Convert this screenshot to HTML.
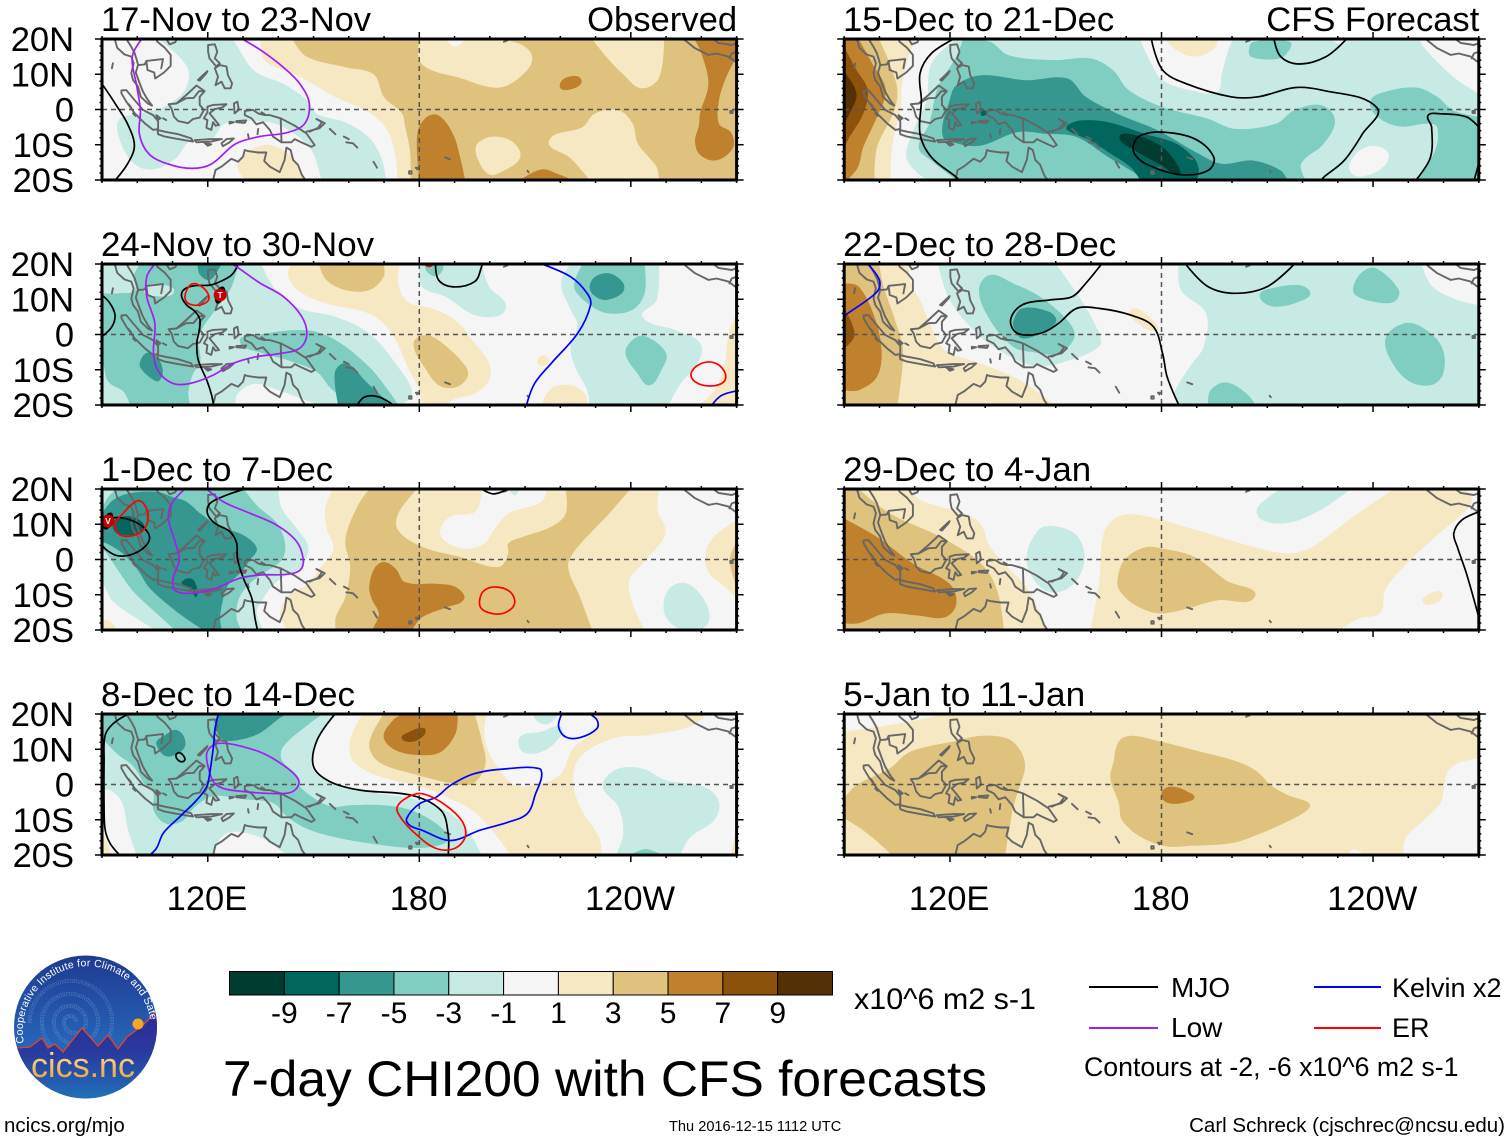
<!DOCTYPE html>
<html>
<head>
<meta charset="utf-8">
<title>7-day CHI200 with CFS forecasts</title>
<style>
html,body{margin:0;padding:0;background:#fff;}
svg{display:block;}
text{font-family:"Liberation Sans",sans-serif;fill:#000;}
</style>
</head>
<body>
<svg id="chart" xmlns="http://www.w3.org/2000/svg" width="1510" height="1142" viewBox="0 0 1510 1142">
<defs id="defs">
<linearGradient id="logoSky" x1="0" y1="0" x2="0" y2="1"><stop offset="0" stop-color="#1f3a92"/><stop offset="0.6" stop-color="#2663b6"/><stop offset="1" stop-color="#2a6cc0"/></linearGradient>
<linearGradient id="logoLand" x1="0" y1="0" x2="0" y2="1"><stop offset="0" stop-color="#2b2a96"/><stop offset="0.45" stop-color="#2a3a9e"/><stop offset="1" stop-color="#1f78bd"/></linearGradient>
<linearGradient id="logoGold" x1="0" y1="0" x2="0" y2="1"><stop offset="0" stop-color="#ffe9a8"/><stop offset="1" stop-color="#e8962c"/></linearGradient>
<clipPath id="logoClip"><circle cx="85.5" cy="1027" r="71.5"/></clipPath>
<path id="logoArc" d="M 24 1043 A 64 64 0 1 1 150 1018"/>
<path id="logoSpiral" d="M 78 1022 A 8 8 0 0 0 62 1022 A 13 13 0 0 0 88 1022 A 18 18 0 0 0 52 1022 A 24 24 0 0 0 100 1022 A 30 30 0 0 0 40 1022 A 37 37 0 0 0 114 1022 A 43 43 0 0 0 28 1022"/>
</defs>
<rect x="0" y="0" width="1510" height="1142" fill="#fff"/>
<g id="panels"></g>
<g id="colorbar"></g>
<text x="854" y="1009" font-size="30" textLength="182" lengthAdjust="spacingAndGlyphs">x10^6 m2 s-1</text>
<text x="223" y="1096" font-size="50" textLength="764" lengthAdjust="spacingAndGlyphs">7-day CHI200 with CFS forecasts</text>
<g>
<line x1="1089" y1="987" x2="1158" y2="987" stroke="#000" stroke-width="2"/>
<text x="1171" y="997" font-size="28">MJO</text>
<line x1="1314" y1="987" x2="1381" y2="987" stroke="#0000ff" stroke-width="2"/>
<text x="1392" y="997" font-size="27">Kelvin x2</text>
<line x1="1089" y1="1028" x2="1158" y2="1028" stroke="#a020f0" stroke-width="2"/>
<text x="1171" y="1037" font-size="28">Low</text>
<line x1="1314" y1="1028" x2="1381" y2="1028" stroke="#ff0000" stroke-width="2"/>
<text x="1392" y="1037" font-size="27">ER</text>
<text x="1084" y="1076" font-size="26.7">Contours at -2, -6 x10^6 m2 s-1</text>
</g>
<text x="4" y="1132" font-size="20.5">ncics.org/mjo</text>
<text x="669" y="1131" font-size="14.6">Thu 2016-12-15 1112 UTC</text>
<text x="1505" y="1132" font-size="20.5" text-anchor="end">Carl Schreck (cjschrec@ncsu.edu)</text>
<g>
<circle cx="85.5" cy="1027" r="71.5" fill="url(#logoSky)"/>
<g clip-path="url(#logoClip)">
<text font-size="5.5" style="fill:#9fc2ee" opacity="0.4"><textPath href="#logoSpiral">101010100010110101001010010110100101010110100010101101010101000101101010010100101101001010101101000101011010101010001011010100101001011010010101011010001010110101010100010110101001010010110100101010110100010101101010101000101101010010100101101001010101101000101011010101010001011010100101001011010010101011010001010110101</textPath></text>
<path d="M 10 1048 L 17 1048 L 30 1047 L 42 1038 L 48 1048 L 55 1044 L 63 1052 L 82 1028 L 98 1046 L 108 1035 L 118 1049 L 127 1037 L 143 1025 L 160 1010 L 160 1105 L 10 1105 Z" fill="url(#logoLand)"/>
<path d="M 17 1048 L 30 1047 L 42 1038 L 48 1048 L 55 1044 L 63 1052 L 82 1028 L 98 1046 L 108 1035 L 118 1049 L 127 1037 L 143 1025 L 156 1012" fill="none" stroke="#e0452a" stroke-width="1.3"/>
</g>
<circle cx="138" cy="1024" r="5.5" fill="#f5a623"/>
<text font-size="10.5" style="fill:#fff"><textPath href="#logoArc" textLength="226" lengthAdjust="spacing">Cooperative Institute for Climate and Satellites</textPath></text>
<text x="83" y="1077" font-size="34" text-anchor="middle" style="fill:url(#logoGold)">cics.nc</text>
</g>
</svg>
<script>
// ---------- Colour scale ----------
const colorBreaks = [-9, -7, -5, -3, -1, 1, 3, 5, 7, 9];
const colorRamp = ['#003c30', '#01665e', '#35978f', '#80cdc1', '#c7eae5', '#f5f5f5', '#f6e8c3', '#dfc27d', '#bf812d', '#8c510a', '#543005'];
const latTickValues = [20, 10, 0, -10, -20];
const latTickLabels = ['20N', '10N', '0', '10S', '20S'];
const lonTickValues = [120, 180, 240];
const lonTickLabels = ['120E', '180', '120W'];

// ---------- Coastlines (lon, lat pairs) ----------
const coastOpen = [
 [93.6,20, 94.3,17.5, 96.4,15.6, 98.3,15, 99,13.1, 98.3,10.3, 98.8,8.4, 100.2,6.5, 101,3.6, 103,1.7, 104.2,1.1, 103,2.7, 101.6,5.1, 100.7,7.4, 99.6,10.5, 100.2,12.6, 102.1,12.8, 102.6,13.8, 102.9,11.2, 104.8,10.5, 105.1,8.8, 107.6,10.5, 109.5,12.4, 109.5,15.5, 107.8,17.5, 105.7,19.2, 105.4,20],
 [102.6,13.8, 107.3,14.3, 106.8,11.7],
 [96.9,20, 98.3,17.8, 99.3,15.9, 100.2,12.8],
 [108.2,20, 109.2,18.5, 110.8,19.1, 111.2,20],
 [111.1,1.7, 113.9,3.2, 116,3.3, 117.5,5.2, 119.1,5.2],
 [140.7,-2.5, 140.9,-9.3],
 [148,-6.3, 151.7,-5.3, 153.2,-3.9, 150.8,-2.7, 152.4,-3.6, 151.3,-5.2, 148.9,-6.3],
 [154.6,-5.5, 156.2,-7],
 [158.6,-7.7, 160,-8.4],
 [159.3,-9.3, 161.2,-9.6, 162.4,-10.8],
 [131.4,-7, 131.6,-8],
 [134.3,-5.5, 134.1,-7],
 [97.6,1.5, 98.3,0.5],
 [98.8,-1.1, 99.5,-1.8],
 [93.1,13.1, 92.8,11.7],
 [107.3,-2.5, 108.2,-3],
 [135.2,-0.8, 136.1,-1.3],
 [121.5,-20, 122.2,-17.2, 123.9,-16.2, 126.7,-14, 128.6,-14.8, 130,-13.4, 130.5,-11.5, 131.4,-11.8, 134.3,-12.2, 136.6,-12.2, 136,-14.6, 137.6,-16.2, 140.4,-17.8, 141.8,-14.3, 142.3,-10.8, 143.5,-11.5, 144.2,-14.3, 145.6,-15.7, 146.7,-18.6, 147.7,-20],
 [167,-14.8, 168,-16.5],
 [187.3,-13.6, 188.7,-14.1],
 [210.7,-17.4, 211,-17.8],
 [204,19.2, 205,19.6],
 [254.9,20, 258.2,17.4, 262,15.5, 264.3,15.9, 267.7,15, 269.6,13.6],
 [263.4,20, 264.8,18.9, 268.6,18.3, 270,18.8],
 [268,14.5, 268.6,15.9, 270,16.4],
 [268.4,-0.4, 268.8,-1]
];
const coastClosed = [
 [95.5,5.4, 96.9,5.5, 98.8,3.2, 101.6,-0.1, 104.5,-1.6, 105.9,-3.3, 105.9,-5.5, 104.5,-5.8, 102.1,-3.9, 99.3,-1.1, 96.9,2.2, 95.5,4.6],
 [105.7,-5.8, 107.8,-6.3, 111.6,-7, 115.3,-8.2, 115.8,-9.1, 111.6,-8.4, 107.8,-7.7, 105.9,-7],
 [116.3,-8.7, 121,-8.4, 124,-8.4, 121,-9.1, 116.8,-9.3],
 [123.9,-9.6, 125.3,-8.4, 127.4,-8.2, 126.2,-9.3, 124.3,-10.4],
 [118.9,-9.3, 121,-9.9, 120,-10.3],
 [108.9,1.5, 111.1,1.7, 113.9,4.1, 116.8,6.8, 119.1,5.2, 117.7,3.6, 117.7,1.3, 118.9,-0.1, 117.7,-2.3, 115.8,-2.7, 114.4,-3.9, 111.6,-3.3, 110.4,-2, 109.7,0.3],
 [119.9,0.8, 121.5,1.3, 125.3,1.5, 124,0.5, 122,0.1, 120.5,-1.1, 121.5,-2.3, 123.2,-4.4, 122.2,-4.6, 121.5,-3.6, 121,-5.8, 119.6,-5.2, 119.9,-3, 118.9,-2.5, 119.9,-0.8],
 [120.1,18.3, 122,18.5, 122.7,16.4, 122,14.5, 123.4,13.1, 122.4,12.2, 120.5,14.5, 120.1,16.4],
 [122,11.7, 123.4,12.6, 125.3,12.2, 125.7,9.8, 126.9,7.4, 126.5,6, 124.8,6, 123.9,7.9, 122.2,6.9, 122.9,9.3],
 [117.2,8.4, 119.9,10.9, 119.6,10.3, 117.7,8.2],
 [127.4,1.7, 128.4,2.2, 128.8,-0.1, 127.6,-1.1],
 [128.1,-3.3, 130.9,-3.1, 130.5,-3.8, 128.1,-3.6],
 [126.2,-3.5, 127.4,-3.6, 126.2,-4],
 [130.5,-0.4, 132.8,-0.1, 134.3,-1.1, 136.1,-1.6, 137.6,-1.6, 140.7,-2.5, 144.7,-4.6, 146.5,-5.8, 148,-6.8, 150.3,-10.1, 149.4,-10.6, 146.5,-9.3, 144.7,-8.4, 143.7,-9.3, 140.9,-9.3, 138.5,-7.7, 137.6,-5.8, 135.7,-3.6, 133.8,-4.2, 132.4,-2.5, 130.5,-1.6],
 [105.4,-1.6, 106.6,-2.5, 105.9,-2.9],
 [177.1,-17.5, 177.8,-17.5, 177.8,-18.2, 177.1,-18.2],
 [179,-16.5, 179.6,-16.5, 179.4,-17],
 [268.2,-0.4, 268.9,-0.4, 268.9,-1, 268.2,-1]
];

// ---------- Panel 1: 17-Nov to 23-Nov (level, then lon,lat pairs) ----------
const p1Fills = [
 [2, 90,20, 144,20, 148,15, 159,12, 167,10, 170,3.5, 175,-1, 176,-5, 177.4,-12, 177.5,-20, 90,-20],
 [0, 90,20, 135.2,20, 136,14, 145.4,9.7, 156.3,3.5, 165.8,-0.8, 171,-6, 173.3,-13.6, 173.7,-20, 90,-20],
 [2, 130.5,-20, 128.5,-15.5, 133.3,-10.8, 138.6,-10.3, 144,-13.6, 148,-20],
 [-2, 106,20, 114.2,12, 113.5,5.5, 107.4,0.7, 100.6,-1.2, 94.8,-3, 95.2,-9, 99.2,-15.5, 104.7,-17, 110.8,-14, 114.9,-9, 121,-8.4, 125,-4, 137.3,-3.6, 144,-6.5, 149.5,-11.7, 152.2,-20, 170.6,-20, 169.2,-13.6, 165.8,-8, 159,-3.6, 150.9,-1.2, 148.2,2.6, 141.4,7.3, 133.2,11, 127.8,18.8, 127,20],
 [2, 180,20, 180.6,13, 191.4,9, 202.7,6.2, 210,10.5, 212,15, 208.8,18.5, 202,20],
 [0, 187.5,20, 190.3,17.8, 193,20],
 [2, 229,20, 233,15, 237.8,10, 243,6, 248,9, 249.4,20],
 [2, 216.8,-8.9, 226.3,-5, 229.7,-1.2, 236.5,-0.2, 240.5,-4, 242,-9.7, 247.3,-16.3, 248,-20, 228.3,-20, 222.9,-13.8],
 [2, 196.4,-9.8, 201,-7.7, 206.6,-9.3, 208.6,-13.6, 203.9,-17.4, 199.8,-18.4, 196.4,-13.6],
 [6, 179.4,-7, 182,-2.2, 185.5,-1.7, 189.6,-7, 191.6,-13.6, 193,-20, 180,-20],
 [6, 208.6,-20, 214.7,-17, 219.5,-18.4, 223.6,-20],
 [6, 219.9,7.3, 221.5,9, 225,9.4, 226,7.6, 223.6,5.9, 220.4,5.7],
 [6, 258,20, 260,16, 262,7.3, 259.6,-1.2, 259.3,-4.5, 258.2,-9, 259.6,-12.8, 264.3,-14.4, 269,-10.8, 268.4,-6.5, 265,-4, 265,2.6, 267,9, 270,15, 270,20]
];
const p1Mjo = [[90,7.3, 93.8,1.6, 97.2,-4, 99.2,-10.3, 97.2,-15.5, 93.8,-20]];
const p1Low = [[101.3,20, 98.6,15, 99.9,6.4, 100.9,-0.3, 100.6,-7, 103.3,-12.6, 108.8,-15.5, 115.5,-16.7, 121,-15.5, 127.8,-9.8, 134.6,-7.7, 142.7,-6.5, 147.5,-4, 148.8,1.7, 146.1,7.3, 141.4,12, 135.2,16.7, 129.8,20]];
const p1Kelvin = [];
const p1Er = [];
const p1Storms = [];

// ---------- Panel 2: 24-Nov to 30-Nov ----------
const p2Fills = [
 [2, 144,20, 174.6,20, 174,14.5, 176.7,9.3, 183.5,7.4, 190.3,4, 195,-1.6, 199.8,-8.2, 199.8,-13, 195.7,-16.8, 190.3,-18.2, 187.5,-20, 180.8,-20, 180,-15.8, 176.7,-9.2, 173.3,-1.6, 170,3.1, 164.5,6.4, 153.6,8.8, 145.4,12.6, 142.7,17.3],
 [4, 151.5,20, 153.6,15.5, 159,12.6, 165.8,12.6, 169.9,16.4, 169.9,20],
 [4, 178.7,-1.6, 182.1,-0.2, 186.2,-2.2, 193,-8.8, 193.7,-12, 190.3,-15, 185.5,-14.4, 181.4,-9.2, 178.7,-4.5],
 [-2, 90,20, 135.2,20, 139.3,12.6, 146.1,7.4, 156.3,5, 165.8,0.3, 174,-9.2, 178,-16.8, 174.6,-20, 151.5,-20, 148,-18.7, 140,-15.8, 133.2,-14, 128.5,-16.8, 127.8,-20, 90,-20],
 [-4, 90,11.7, 95.1,11.7, 99.4,12.6, 98.9,16.4, 100.8,20, 128.7,20, 126.8,13.6, 123.5,8.8, 121.1,5.5, 118.7,2.2, 117.3,-1.6, 117.8,-5.3, 117.8,-8.2, 115.9,-11, 114.5,-16.2, 115,-20, 97.9,-20, 96.1,-16.2, 91.8,-13.4, 90.4,-8.7, 90,-8.7],
 [-2, 102.2,13.6, 105.5,14.3, 110.2,13.1, 109.8,11.2, 104.6,10.9, 102.2,11.7],
 [-6, 117.1,20, 117.8,16.9, 120.6,15.5, 123.5,19.2, 124,20],
 [-6, 100.8,-7.7, 102.5,-5.3, 104.9,-5.8, 107.2,-9.6, 106.2,-13.1, 103.9,-12.4, 101,-9.6],
 [-4, 129.1,-2, 134.6,0, 148.2,1.2, 156.3,-1.6, 165.8,-9.2, 171.9,-16.8, 174,-20, 161,-20, 155,-15.4, 150.9,-10.6, 142.7,-7.3, 135.9,-5.4],
 [-6, 156,-11, 158.3,-8.2, 161.1,-9.2, 164.5,-13, 170,-18.2, 171.3,-20, 157,-20],
 [-2, 180,20, 180.8,13.6, 187.5,10.7, 195.7,5.5, 203,5.5, 204.5,8.8, 199.8,13.6, 197.7,20],
 [-4, 181.5,20, 182,18, 184.5,16.5, 186.5,18, 186.8,20],
 [-2, 222.9,20, 220.2,14.5, 222.9,7, 224.9,2.7, 222.9,-3.5, 224.2,-9.2, 227.6,-15.8, 228.3,-20, 250.7,-20, 254.1,-14, 258.9,-8.2, 259.8,-2.6, 252.8,1.2, 243.3,5, 247.3,9.8, 248,20],
 [-4, 224.2,15.5, 226.3,20, 243.9,20, 243.9,11.7, 240.5,7, 233.6,6, 228.3,8.4, 224.2,12.6],
 [-6, 228.3,13.6, 229.9,16.4, 234,17.3, 237.9,14.5, 237.5,11.7, 232.8,9.8, 229.4,11.2],
 [-4, 238.5,-5.3, 240.5,-1.5, 243.9,-0.4, 250,-5.3, 248.7,-10, 245.3,-14.4, 241.9,-11.1],
 [2, 213.4,-7.3, 215.4,-5.9, 216.8,-7.8, 214.5,-8.9],
 [2, 214.7,-20, 217.4,-15.3, 222.9,-14.4, 227,-16.8, 227.6,-20],
 [2, 259.6,-20, 263.7,-15.8, 266.4,-9.2, 267.8,0.3, 270,6, 270,-20]
];
const p2Mjo = [
 [128.7,20, 126.8,16.9, 123.5,15, 120.6,14, 115.9,13.8, 113.1,12.6, 112.6,10.7, 114,8.4, 116.4,6.5, 117.8,4.1, 117.5,0.8, 116.9,-2.5, 117.3,-7.2, 119.7,-12.9, 121.1,-17.2, 121.6,-20],
 [90,11.2, 92.3,8.8, 93.7,5.5, 92.8,2.2, 90,-0.6],
 [184.6,20, 185.5,15.4, 189.6,13.5, 195.7,15, 197.7,19.3, 197.7,20],
 [162.4,-20, 164.5,-17.7, 168.5,-17.7, 172.6,-20]
];
const p2Low = [[105,20, 102.7,16.4, 102.7,10.7, 105,3.1, 104.6,-5.3, 106,-10.5, 110.2,-13.9, 114.9,-13.9, 121.6,-11.5, 127.2,-8.2, 133.8,-6.3, 140.5,-5.4, 146.1,-3.9, 148.1,0, 146.6,5.2, 141.4,10.8, 134.8,14.6, 128.2,19.2, 126.8,20]];
const p2Kelvin = [
 [214.7,20, 222.9,16.4, 227.6,11.7, 228.6,8.4, 224.9,0.3, 217.4,-8.2, 212.7,-13.9, 210.4,-20],
 [263,-20, 265.7,-17.3, 270,-16]
];
const p2Er = [
 [113.5,10.7, 115,14, 116.9,14.3, 119.7,12.2, 120.2,9.8, 117.8,8.4, 114.5,8.8],
 [181.4,20, 182.8,19.3, 184.1,20],
 [257.1,-11, 259.6,-8.4, 263.6,-8, 266.6,-10.6, 266.4,-13.4, 262.3,-14.6, 258.2,-13.4]
];
const p2Storms = [['T', 123.5, 11.2]];

// ---------- Panel 3: 1-Dec to 7-Dec ----------
const p3Fills = [
 [4, 165.8,20, 179.4,20, 174,13, 174,8.3, 180.8,3.6, 191.6,0.7, 202.5,-2.1, 205.2,1.7, 205.2,4.5, 209.3,6.4, 217.4,9.3, 221.5,13, 221.5,20, 239.9,20, 233.8,13, 224.2,2.6, 222.2,-2.1, 225.6,-10.7, 229,-20, 156.3,-20, 156.3,-16.4, 159,-10.7, 160.4,-2.1, 159,5.5, 162.4,15],
 [0, 185.9,8.3, 188.8,12.1, 195.7,13.5, 197.7,18.8, 197.1,20, 216.1,20, 214.7,16.4, 205.2,13, 201.1,8.3, 198.4,4.5, 193,3.1, 187.5,5],
 [-2, 205.2,20, 207,18.3, 208.6,20],
 [6, 165.8,-7.8, 167.2,-2.6, 169.9,-0.7, 173.3,-2.6, 176,-6.4, 184.8,-6.9, 190.3,-7.8, 192.7,-11.2, 187.6,-13.6, 180.8,-16.4, 178,-20, 166.5,-20, 168.5,-15.5, 166.5,-11.2],
 [0, 248,20, 247.6,14, 249.8,7.4, 243.3,-1.2, 239.5,-5.9, 240.5,-12.6, 243.9,-20, 270,-20, 270,20],
 [2, 261.2,1.7, 263.6,6.4, 270,11.2, 270,-10.7, 265.7,-6.9, 262,-3.6],
 [4, 270,5, 268,-0.2, 270,-7.8],
 [-2, 249.4,-11.6, 251.4,-7.8, 255.5,-6.7, 259.6,-9.7, 262.3,-15.4, 260.9,-19.2, 254.1,-19.7, 250,-16.4],
 [0, 90,20, 155.5,20, 153.3,14.5, 153.7,8.8, 155.6,3.2, 151.8,-2.5, 148,-7.2, 143.3,-10, 140.5,-15.3, 142.4,-20, 90,-20],
 [-2, 90,20, 140,20, 141,14.5, 145.2,8.8, 148.5,3.6, 146.6,-2, 142.4,-4.4, 138.6,-7.2, 135.8,-11, 133.9,-14.8, 135.8,-20, 105,-20, 99.8,-16.7, 93.2,-12, 90.4,-7.2, 90,-7.2],
 [-4, 94.2,20, 130.1,20, 134.3,15, 139.6,10.3, 141.9,4.6, 141,-0.1, 135.8,-3.9, 131.5,-7.2, 128.7,-11.5, 128.2,-16.7, 129.6,-20, 110.7,-20, 105.5,-15.3, 98.9,-9.1, 95.1,-3.9, 91.3,1.7, 90,3.2, 90,14.5, 91.8,17.8],
 [-6, 90,13.1, 93.2,16.9, 97.9,18.8, 105.5,19.2, 109.8,17.8, 114,16.4, 117.8,13.1, 123.5,9.3, 129.9,7, 133.9,3.2, 132,-0.1, 129.1,-3.9, 125.8,-7.2, 124.4,-11, 123.5,-16.7, 124,-20, 118.7,-20, 111.2,-14.8, 103.6,-8.2, 99.8,-2.5, 95.9,1.7, 92.2,4.1, 90,5.1],
 [-8, 93.2,10.7, 96,12.2, 99.8,11.7, 102.1,9.3, 100.7,7.4, 96.9,6.9, 93.7,7.9],
 [-8, 112.6,-6.3, 114.5,-5.3, 116.3,-6.3, 116.9,-10.5, 115,-8.6, 112.6,-6.8],
 [2, 90,-17.2, 92.3,-17.6, 94.2,-20, 90,-20]
];
const p3Mjo = [
 [90,11.2, 92.3,11.7, 95.1,11.9, 98.9,10.9, 102.1,8.8, 103.5,6, 101.7,3.2, 98,1.3, 94.2,1.1, 91.3,2.7, 90,4.1],
 [130.5,20, 125.4,18.3, 120.6,15.9, 119.9,13.1, 122,10.3, 126.3,7.9, 128.2,4.6, 128.4,0.3, 130.1,-5.3, 132.5,-11, 133.4,-16.7, 134.1,-20],
 [197.7,20, 201.1,18.6, 205.2,20]
];
const p3Low = [[113.5,20, 109.8,15.9, 108.8,11.7, 110.7,5.1, 111.9,-0.1, 110.2,-5.3, 110.7,-8.7, 115,-9.6, 121.6,-8.4, 129.1,-5.3, 134.8,-4.4, 142.4,-4.2, 146.2,-3, 147.1,-0.1, 145.2,5.1, 139.5,9.8, 132,13.1, 124.4,16.4, 119.7,20]];
const p3Kelvin = [];
const p3Er = [
 [93.6,9.8, 96,13.1, 99.8,16.6, 101.7,16, 103.1,12.6, 102.1,8.8, 98.9,6.8, 95.1,7],
 [197.1,-11.6, 198.4,-8.8, 201.8,-7.8, 205.9,-9.3, 207,-12.6, 204.5,-15, 201.1,-15.4, 197.7,-14]
];
const p3Storms = [['V', 91.7, 10.9]];

// ---------- Panel 4: 8-Dec to 14-Dec ----------
const p4Fills = [
 [2, 163.8,20, 160.4,12.6, 161.1,6.9, 166.5,3.1, 172.6,1.2, 180.8,-0.7, 188.9,-4.1, 195.7,-7.8, 201.8,-14.5, 205.9,-20, 231.7,-20, 231,-15, 225.6,-6.4, 223.6,1.2, 225.6,7.8, 235.1,13.1, 244.6,14, 256.8,16.4, 261.6,20, 230.4,20, 229.7,15.4, 223.6,10.2, 220.2,3.1, 214.7,0.2, 207.3,-0.2, 202.5,4.5, 199.1,10.7, 198.4,15.4, 199.1,20],
 [4, 169.9,20, 195.7,20, 197.7,12.6, 198.7,5.5, 195,0.2, 188.9,0.4, 178,3.1, 168.5,6.4, 165.8,11.6],
 [6, 169.9,13.5, 172.6,18.3, 175.3,20, 190.9,20, 190.3,14.5, 186.2,9.3, 180.8,8.3, 173.3,9.7],
 [8, 175,13.1, 177.3,15, 181.4,16, 181.4,14, 178,12.1],
 [-2, 90,20, 156.6,20, 151.8,13.6, 149.9,7.9, 149.9,4.1, 155.6,0.3, 163.2,-1.7, 179.4,-4.3, 188.2,-7.8, 193.7,-13, 197.7,-20, 142.4,-20, 138.6,-17.2, 133.9,-14.6, 127.3,-13.4, 123.5,-15.3, 121.9,-20, 99.8,-20, 97.4,-12.9, 95.6,-4.9, 92.3,-1.6, 90,-1.6],
 [-4, 90,13.1, 94.2,8.8, 98.9,5.1, 102.2,-0.1, 104.6,-2.5, 104.6,-7.2, 107.9,-11, 112.6,-10.5, 116.4,-6.3, 121.6,-3.3, 130.1,-4.2, 138.6,-5.3, 142.7,-9.3, 148.2,-12.6, 156.3,-15, 167.2,-16.9, 178,-18, 185.5,-17.3, 188.2,-15.4, 185.5,-11.6, 178,-7.4, 169.9,-5.9, 160.4,-5.9, 155.6,-6.3, 151.8,-4.9, 146.2,-0.6, 145.2,2.7, 141,6.9, 141.4,10.7, 149,17.4, 152.8,20, 90,20],
 [-6, 122.7,20, 122.5,15.5, 124.4,12.7, 129.1,12.7, 134.8,14.6, 141,19.2, 143.3,20],
 [-6, 105.5,12.2, 107.9,14, 110.7,15.5, 113,14, 113.5,10.7, 110.7,8.4, 107.9,8.1, 106,10.1],
 [-2, 212,20, 214,17.5, 216.8,17.3, 219.5,20],
 [-2, 208.6,13.5, 209.3,9.3, 214.7,9.3, 219.5,13, 220.2,16.4, 214.7,15],
 [-2, 232.4,1.2, 236.5,4.5, 243.3,4.5, 250,1.2, 260.9,-0.7, 265,-5, 263.6,-10.2, 256.8,-15, 254.1,-20, 235.8,-20, 237.8,-14, 236.5,-6.4, 232.4,-1.7],
 [-4, 240.1,-20, 244.1,-18.3, 248.9,-20],
 [2, 270,-12, 268.4,-20, 270,-20],
 [2, 90.4,-13.9, 92.3,-19, 92.8,-20, 90,-20, 90,-13.9]
];
const p4Mjo = [
 [97.5,20, 93.2,17.3, 90.9,14, 90.6,6.9, 90.6,-7.2, 90.9,-12.9, 92.3,-16.7, 95,-20],
 [111,8.4, 112.1,9, 113.5,7.4, 113,6.5, 111.6,6.9],
 [156.1,20, 151,12.6, 150,5.1, 154.7,0.8, 163.2,-1.6, 178,-3.1, 186.2,-7.4, 188.2,-14, 188.2,-20]
];
const p4Low = [[124.9,11.7, 121.6,11.2, 119.7,8.8, 120.2,4.6, 121.6,0.8, 124.4,-1.1, 130.1,-2, 136.8,-2.5, 143.4,-2.3, 145.8,-0.1, 145.2,2.2, 141.4,5.5, 135.8,8.8, 130.1,10.7]];
const p4Kelvin = [
 [123,20, 122,15.5, 121.6,10.7, 120.4,2.2, 119.7,-0.6, 116.9,-4.4, 112.1,-9.1, 107.4,-13.8, 105.5,-18, 103.6,-20],
 [176.4,-9.7, 180,-5.5, 184.8,-3.6, 188.9,-0.2, 195.7,3.1, 205.2,4.5, 214,4.5, 214.7,2.2, 213,-2.6, 210.7,-8.2, 205.2,-10.7, 197.1,-13, 188.9,-15.9, 180.8,-13, 177.3,-11.6],
 [220.4,20, 219.5,16.4, 221.5,13.5, 225.6,13.3, 230.4,15.9, 230.4,18.3, 228.3,20]
];
const p4Er = [[173.7,-6.4, 176.7,-3.6, 180.8,-2.6, 187.5,-5.9, 192.3,-10.7, 193,-15, 189.6,-18.3, 184.2,-17.9, 178,-13.1, 174.7,-9.3]];
const p4Storms = [];

// ---------- Panel 5: 15-Dec to 21-Dec ----------
const p5Fills = [
 [0, 90,20, 121.8,20, 114.7,13, 113.4,2.6, 109.6,-6, 107.6,-13.5, 111.1,-18.3, 114,-20, 90,-20],
 [2, 90,20, 110.2,20, 108.3,15, 106.3,6.4, 106,-0.2, 103.8,-8.8, 103.1,-20, 90,-20],
 [4, 90,20, 99.9,20, 102.5,14, 105.1,5.5, 103.8,-1.2, 99.3,-10.7, 98.6,-20, 90,-20],
 [6, 90,20, 94.1,20, 98,13, 101.8,5.5, 99.3,-2.1, 95.4,-10.7, 93.9,-16.4, 90.9,-20, 90,-20],
 [8, 90,17.8, 93.5,11.2, 96.7,5.5, 95.4,-1.2, 91.5,-7.8, 90,-10.7],
 [10, 90,10.7, 93.5,4.5, 91.5,-1.2, 90,-4],
 [0, 173.9,20, 177.1,13, 180.3,8.3, 188.1,5.5, 195.8,5, 197.1,10.2, 199,16.9, 200.3,20],
 [2, 181,20, 184.2,16.9, 189.4,15, 194.5,16.9, 196.4,20],
 [0, 253,20, 255,16.9, 262.7,9.3, 270,4.5, 270,20],
 [0, 228,20, 231.2,18.3, 233,20],
 [0, 233.4,-15.4, 236.3,-11.6, 240.8,-10.4, 244.4,-12.6, 242.8,-16.4, 237,-19, 233.8,-18],
 [-4, 123.7,20, 131.4,19.2, 136.6,15.4, 149.5,14, 159.8,14.5, 166.2,11.2, 170.7,5.5, 180.3,0.7, 193.2,-2.6, 200.9,-5.5, 212.5,-4, 217.7,-0.2, 225.4,1.2, 229.2,-3.1, 226,-9.7, 219.6,-15.4, 220.9,-20, 121.8,-20, 114.7,-14.5, 111.1,-10.7, 114.1,-4, 116.6,6.4, 121.8,15],
 [-4, 204.8,16.9, 206.1,19.2, 216.4,19.2, 215.1,15.4, 211.2,14.2, 205.4,15],
 [-4, 239.3,2.6, 243.4,5, 252.4,6.2, 258.2,3.6, 262.7,-0.2, 270,-2.1, 270,-20, 252.4,-20, 257.6,-11.6, 258.2,-5, 255.6,-4, 247.3,-4.8, 240.8,-1.7],
 [-6, 119.9,2.6, 121.8,6.9, 128.9,9.7, 141.7,8.3, 153.3,8.8, 158.5,3.6, 167.5,-1.2, 179.1,-6, 190.6,-12.6, 197.1,-15.4, 206.1,-14.5, 213.8,-17.3, 215.7,-20, 175.2,-20, 171.3,-17.3, 164.9,-13.5, 155.9,-7.8, 146.9,-6.9, 139.2,-6.4, 128.9,-10.2, 122.4,-9.7, 117.9,-7.4],
 [-8, 153.3,-4.5, 157.2,-3.1, 164.9,-3.6, 175.2,-6.9, 184.2,-9.7, 189.4,-14, 190.6,-17.3, 190,-20, 173.9,-20, 171.3,-16.4, 164.9,-12.1, 159.8,-8.8, 153.3,-5.9],
 [-10, 168.1,-7.8, 172.6,-7.3, 180.3,-10.7, 184.9,-16.4, 184.9,-18.8, 180.3,-16, 172.6,-11.7],
 [-8, 128.9,-0.5, 130.2,-0.4, 130.2,-1.5, 128.9,-1.7]
];
const p5Base = -2;
const p5Mjo = [
 [121.1,20, 114.7,15.9, 111.5,10.2, 111.9,2.6, 111.5,-6.9, 114.7,-13.5, 121.8,-19.2, 122.5,-20],
 [177.1,20, 180.3,11.2, 186.8,7.4, 199.7,3.6, 207.4,3.6, 217.7,6.2, 225.4,5.5, 241.1,0.5, 237,-6.9, 231.8,-14.5, 226,-19.2, 225.5,-20],
 [211.9,20, 213.8,15, 219,12.9, 226.7,15, 232.5,20],
 [172,-10.2, 174,-7.4, 180.3,-6.4, 189.4,-8.3, 194.8,-13.5, 193.2,-17.3, 185.5,-18.5, 176.5,-15.9, 172.6,-13],
 [252.2,-20, 256.3,-13.5, 256.6,-5, 255.6,-1.7, 258.8,-1.2, 266.5,-2.1, 270,-5, 270,-15.3, 268.7,-20]
];
const p5Low = [];
const p5Kelvin = [];
const p5Er = [];
const p5Storms = [];

// ---------- Panel 6: 22-Dec to 28-Dec ----------
const p6Fills = [
 [2, 90,20, 108.3,20, 108.9,14.5, 111.5,9.8, 114.7,2.2, 118.6,-4.5, 127.6,-7.8, 137.9,-12, 144.3,-15.8, 149.5,-20, 90,-20],
 [4, 90,20, 99.9,20, 101.2,13.6, 104.4,4.1, 106.7,-4.5, 105.1,-20, 90,-20],
 [6, 90,14.5, 94.1,13.6, 98.6,5, 100.6,-4.5, 99.3,-12, 94.1,-15.8, 90,-15.8],
 [8, 90,7.4, 92.2,3.1, 92.8,-0.7, 90,-4],
 [-2, 116.6,20, 119.9,9.8, 127.6,0.3, 134,-4.5, 143,-8.7, 150.7,-8.3, 162.3,-3.5, 162.3,0.3, 157.2,9.8, 150.1,20],
 [-4, 128.2,12.6, 131.4,16.9, 137.9,14.5, 145.6,10.7, 153.3,4, 155.3,-0.7, 150.7,-5.4, 143,-4.9, 137.9,-3.5, 131.4,4],
 [-6, 137.9,3.6, 140.5,7.4, 148.2,6.4, 150.1,3.6, 145.6,0.3, 140.5,-1.1, 138.5,1.2],
 [-2, 184.9,20, 185.5,12.6, 192.6,6, 191.9,-3.5, 188,-9.2, 183.6,-16.8, 184.9,-20, 270,-20, 270,8.3, 264,9.8, 256.9,13.6, 253.7,20],
 [-4, 208,11.7, 211.2,13.1, 219,14, 222.2,11.7, 219,9.3, 212.5,7.9, 208.7,9.3],
 [-4, 234.4,13.6, 237,17.8, 240.8,18.8, 247.3,12.6, 246,9.3, 240.2,9.3, 235,11.2],
 [-4, 243.7,-0.7, 248.6,3.1, 253.7,2.2, 259.5,-3.5, 259.9,-11.1, 256.3,-14.4, 249.8,-13, 244.6,-6.4],
 [-4, 193.2,-20, 193.9,-15.8, 198.4,-13.6, 204.2,-16.8, 206.7,-20],
 [2, 170.7,6, 172.6,7.4, 176.5,5, 179.1,1.7, 176.5,1.2, 173.9,2.7]
];
const p6Mjo = [
 [163,20, 158.5,14.5, 154.6,10.7, 148.2,9.8, 140.5,8.4, 137.2,4.1, 139.2,0.3, 145.6,0.3, 150.7,3.1, 155.9,7.4, 162.3,7.4, 171.3,5.5, 177.7,2.2, 180.3,-5.4, 181.6,-12, 184.9,-20],
 [186.8,20, 193.2,13.6, 200.9,11.7, 210,13.6, 217.7,20]
];
const p6Low = [];
const p6Kelvin = [[96.7,20, 100,15.4, 99.3,12.1, 90.3,5.5]];
const p6Er = [];
const p6Storms = [];

// ---------- Panel 7: 29-Dec to 4-Jan ----------
const p7Fills = [
 [2, 90,20, 108.9,20, 111.5,16.9, 127.6,11.2, 131.4,3.6, 135.3,-1.2, 141.7,-7.8, 145.6,-15.4, 147.9,-20, 90,-20],
 [4, 90,20, 94.1,20, 103.1,13, 117.3,6.4, 128.9,-1.2, 133.4,-8.8, 135.3,-20, 90,-20],
 [6, 90,11.6, 99.3,6.4, 109.6,-1.2, 119.9,-6.9, 121.8,-12.6, 118.6,-16.4, 110.8,-15.9, 101.8,-15.3, 94.1,-18.1, 90,-18.1],
 [-2, 141.7,-0.2, 145,8.3, 149.5,9.5, 155.9,6.9, 158.2,0.7, 155.9,-6, 150.7,-9.3, 145.6,-7.8],
 [-2, 207.1,14.5, 211.2,18.3, 213.8,20, 233.8,20, 226.7,15, 219,11.2, 212.5,10.2, 208,11.6],
 [2, 159.8,-20, 162.3,-6.9, 163.6,7.4, 167.5,12.1, 173.9,12.6, 186.8,9.3, 206.1,3.6, 216.4,1.7, 222.8,3.6, 229.3,8.3, 237,14, 246,20, 266.6,20, 267.9,15.9, 257.6,6.4, 248.6,-2.1, 243.4,-8.8, 242.1,-15, 235.7,-16.9, 230.5,-20],
 [4, 167.5,-5.9, 169.4,-0.2, 175.2,3.4, 180.3,3.1, 189.4,0.7, 198.4,-6, 206.5,-10.5, 195.8,-11.6, 180.3,-15.3, 172.6,-13, 168.1,-8.8],
 [2, 254,-11.6, 256.9,-9.3, 259.5,-9.3, 259.1,-11.6, 255.6,-12.9]
];
const p7Mjo = [[270,13.5, 265.2,11.2, 262.9,7.4, 263.9,3.6, 266.5,-4, 270,-16.4, 270,-20]];
const p7Low = [];
const p7Kelvin = [];
const p7Er = [];
const p7Storms = [];

// ---------- Panel 8: 5-Jan to 11-Jan ----------
const p8Fills = [
 [0, 90,15, 98.3,16.2, 109.7,18.1, 118.2,20, 90,20],
 [0, 248.7,-20, 249.2,-15.3, 254.4,-10.1, 259.1,-5.3, 260.1,-1.5, 261,3.2, 263.9,6, 270,7.4, 270,-20],
 [0, 232.7,-20, 234.6,-18.4, 237.4,-20],
 [4, 90,-3.9, 93.6,-0.1, 103,4.6, 107.8,8.8, 113.4,10.7, 121,12.2, 128.6,13.8, 136.1,13.1, 139.9,9.8, 141.3,5, 139.9,-0.1, 138,-6.3, 137.1,-11, 135.7,-20, 103.5,-20, 98.3,-15.3, 94.5,-12.4, 90,-9.6],
 [4, 167.2,10.7, 168.8,13.1, 172.2,13.8, 179.7,12.2, 191.1,9.3, 201.5,6.5, 207.1,3.7, 210.9,-0.1, 215.6,-2.9, 221.3,-4.9, 222.1,-6.3, 218.5,-9.1, 207.1,-14.3, 199.6,-16.7, 188.2,-17.4, 181.6,-17.6, 174,-14.8, 168.8,-10.1, 167.9,-5.3, 165.5,1.7, 166.5,6.9],
 [6, 180,-2.5, 181.6,-0.8, 184.4,-0.8, 187.3,-2, 189.4,-3.6, 187.3,-4.9, 183.5,-5.5, 180.7,-4.6]
];
const p8Mjo = [];
const p8Low = [];
const p8Kelvin = [];
const p8Er = [];
const p8Storms = [];

const panelTitles = ['17-Nov to 23-Nov', '24-Nov to 30-Nov', '1-Dec to 7-Dec', '8-Dec to 14-Dec', '15-Dec to 21-Dec', '22-Dec to 28-Dec', '29-Dec to 4-Jan', '5-Jan to 11-Jan'];
const panelNotes = ['Observed', '', '', '', 'CFS Forecast', '', '', ''];
const panelBases = [4, 0, 2, 0, p5Base, 0, 0, 2];
const panelFills = [p1Fills, p2Fills, p3Fills, p4Fills, p5Fills, p6Fills, p7Fills, p8Fills];
const panelMjo = [p1Mjo, p2Mjo, p3Mjo, p4Mjo, p5Mjo, p6Mjo, p7Mjo, p8Mjo];
const panelLow = [p1Low, p2Low, p3Low, p4Low, p5Low, p6Low, p7Low, p8Low];
const panelKelvin = [p1Kelvin, p2Kelvin, p3Kelvin, p4Kelvin, p5Kelvin, p6Kelvin, p7Kelvin, p8Kelvin];
const panelEr = [p1Er, p2Er, p3Er, p4Er, p5Er, p6Er, p7Er, p8Er];
const panelStorms = [p1Storms, p2Storms, p3Storms, p4Storms, p5Storms, p6Storms, p7Storms, p8Storms];

// ---------- Layout and axis functions ----------
const NS = 'http://www.w3.org/2000/svg';
const LON_MIN = 90, LON_MAX = 270, LAT_MIN = -20, LAT_MAX = 20;
const PLOT_W = 634.6, PLOT_H = 141;
const TITLE_FIT = [270, 273, 232, 254, 271, 273, 248, 242];
const NOTE_FIT = [150, 0, 0, 0, 213, 0, 0, 0];
function plotLeft(i) { return i < 4 ? 102 : 844.2; }
function plotTop(i) { return 39 + (i % 4) * 225; }
function xAxis(i, lon) { return plotLeft(i) + (lon - LON_MIN) / (LON_MAX - LON_MIN) * PLOT_W; }
function yAxis(i, lat) { return plotTop(i) + (LAT_MAX - lat) / (LAT_MAX - LAT_MIN) * PLOT_H; }
function levelColor(v) {
  let k = 0;
  while (k < colorBreaks.length && v > colorBreaks[k]) k++;
  return colorRamp[k];
}
function make(tag, attrs, parent) {
  const el = document.createElementNS(NS, tag);
  for (const k in attrs) el.setAttribute(k, attrs[k]);
  parent.appendChild(el);
  return el;
}
function onFrame(lon, lat) {
  return lon <= LON_MIN || lon >= LON_MAX || lat <= LAT_MIN || lat >= LAT_MAX;
}
function toPoints(i, flat) {
  const pts = [];
  for (let k = 0; k + 1 < flat.length; k += 2) {
    pts.push({ x: xAxis(i, flat[k]), y: yAxis(i, flat[k + 1]), sharp: onFrame(flat[k], flat[k + 1]) });
  }
  return pts;
}
function smoothPath(pts, closed) {
  const n = pts.length;
  const dirs = pts.map((p, j) => {
    const a = closed ? pts[(j - 1 + n) % n] : pts[Math.max(j - 1, 0)];
    const b = closed ? pts[(j + 1) % n] : pts[Math.min(j + 1, n - 1)];
    const dx = b.x - a.x, dy = b.y - a.y;
    const len = Math.hypot(dx, dy) || 1;
    return p.sharp ? { x: 0, y: 0 } : { x: dx / len, y: dy / len };
  });
  let d = 'M' + pts[0].x.toFixed(1) + ' ' + pts[0].y.toFixed(1);
  const segs = closed ? n : n - 1;
  for (let j = 0; j < segs; j++) {
    const a = pts[j], b = pts[(j + 1) % n];
    const L = Math.hypot(b.x - a.x, b.y - a.y) / 3;
    const da = dirs[j], db = dirs[(j + 1) % n];
    d += 'C' + (a.x + da.x * L).toFixed(1) + ' ' + (a.y + da.y * L).toFixed(1) + ' ' +
         (b.x - db.x * L).toFixed(1) + ' ' + (b.y - db.y * L).toFixed(1) + ' ' +
         b.x.toFixed(1) + ' ' + b.y.toFixed(1);
  }
  return d + (closed ? 'Z' : '');
}
function linearPath(i, flat, closed) {
  let d = '';
  for (let k = 0; k + 1 < flat.length; k += 2) {
    d += (k === 0 ? 'M' : 'L') + xAxis(i, flat[k]).toFixed(1) + ' ' + yAxis(i, flat[k + 1]).toFixed(1);
  }
  return d + (closed ? 'Z' : '');
}
function isClosedLine(flat) {
  return !onFrame(flat[0], flat[1]);
}
function drawLines(i, group, lines, color) {
  lines.forEach(flat => {
    const line = make('path', { d: smoothPath(toPoints(i, flat), isClosedLine(flat)), fill: 'none', stroke: color, 'stroke-width': 1.7 }, group);
    
    
  });
}

// ---------- Draw the panels ----------
const panelsRoot = document.getElementById('panels');
const defsRoot = document.getElementById('defs');
panelTitles.forEach((title, i) => {
  const L = plotLeft(i), T = plotTop(i);
  const clip = make('clipPath', { id: 'plot' + i }, defsRoot);
  make('rect', { x: L, y: T, width: PLOT_W, height: PLOT_H }, clip);

  const g = make('g', {}, panelsRoot);
  
  

  const titleEl = make('text', { x: L - 1, y: T - 8, 'font-size': 34.5, textLength: TITLE_FIT[i], lengthAdjust: 'spacingAndGlyphs' }, g);
  titleEl.textContent = title;
  
  

  if (panelNotes[i]) {
    const noteEl = make('text', { x: L + PLOT_W + 0.5, y: T - 8, 'font-size': 34.5, 'text-anchor': 'end', textLength: NOTE_FIT[i], lengthAdjust: 'spacingAndGlyphs' }, g);
    noteEl.textContent = panelNotes[i];
    
    
  }

  const plot = make('g', { 'clip-path': 'url(#plot' + i + ')' }, g);
  
  

  const base = make('rect', { x: L, y: T, width: PLOT_W, height: PLOT_H, fill: levelColor(panelBases[i]) }, plot);
  
  

  panelFills[i].forEach(shape => {
    const flat = shape.slice(1);
    const fill = make('path', { d: smoothPath(toPoints(i, flat), true), fill: levelColor(shape[0]) }, plot);
    
    
  });

  let coastD = '';
  coastOpen.forEach(flat => { coastD += linearPath(i, flat, false); });
  coastClosed.forEach(flat => { coastD += linearPath(i, flat, true); });
  const coast = make('path', { d: coastD, fill: 'none', stroke: '#666', 'stroke-width': 1.9, 'stroke-linejoin': 'round', 'stroke-linecap': 'round' }, plot);
  
  

  const eq = make('line', { x1: L, y1: yAxis(i, 0), x2: L + PLOT_W, y2: yAxis(i, 0), stroke: '#555', 'stroke-width': 1.5, 'stroke-dasharray': '5 4' }, plot);
  
  
  const dl = make('line', { x1: xAxis(i, 180), y1: T, x2: xAxis(i, 180), y2: T + PLOT_H, stroke: '#555', 'stroke-width': 1.5, 'stroke-dasharray': '5 4' }, plot);
  
  

  drawLines(i, plot, panelMjo[i], '#000000');
  drawLines(i, plot, panelLow[i], '#a020f0');
  drawLines(i, plot, panelKelvin[i], '#0000ff');
  drawLines(i, plot, panelEr[i], '#ff0000');

  panelStorms[i].forEach(storm => {
    const cx = xAxis(i, storm[1]), cy = yAxis(i, storm[2]);
    const arm = make('ellipse', { cx: cx, cy: cy, rx: 4.5, ry: 9, fill: '#000', transform: 'rotate(20 ' + cx + ' ' + cy + ')' }, plot);
    
    
    const disc = make('circle', { cx: cx, cy: cy, r: 6.4, fill: '#c80000' }, plot);
    
    
    const letter = make('text', { x: cx, y: cy + 3, 'font-size': 8.5, 'font-weight': 'bold', 'text-anchor': 'middle', style: 'fill:#fff' }, plot);
    letter.textContent = storm[0];
    
    
  });

  const frame = make('rect', { x: L, y: T, width: PLOT_W, height: PLOT_H, fill: 'none', stroke: '#000', 'stroke-width': 3 }, g);
  
  

  let tickD = '';
  for (let lon = LON_MIN; lon <= LON_MAX; lon += 10) {
    const len = lonTickValues.indexOf(lon) >= 0 ? 7 : 3;
    const x = xAxis(i, lon);
    tickD += 'M' + x + ' ' + T + 'v' + (-len) + 'M' + x + ' ' + (T + PLOT_H) + 'v' + len;
  }
  for (let lat = LAT_MIN; lat <= LAT_MAX; lat += 2) {
    const len = lat % 10 === 0 ? 7 : 2.5;
    const y = yAxis(i, lat);
    tickD += 'M' + L + ' ' + y + 'h' + (-len) + 'M' + (L + PLOT_W) + ' ' + y + 'h' + len;
  }
  const ticks = make('path', { d: tickD, stroke: '#000', 'stroke-width': 1.5, fill: 'none' }, g);
  
  

  if (i < 4) {
    latTickValues.forEach((lat, k) => {
      const yLab = make('text', { x: 74, y: yAxis(i, lat) + 12, 'font-size': 34.5, 'text-anchor': 'end' }, g);
      yLab.textContent = latTickLabels[k];
      
      
    });
  }
  if (i % 4 === 3) {
    lonTickValues.forEach((lon, k) => {
      const xLab = make('text', { x: xAxis(i, lon) - 0.8, y: T + PLOT_H + 55, 'font-size': 34.5, 'text-anchor': 'middle' }, g);
      xLab.textContent = lonTickLabels[k];
      
      
    });
  }
});

// ---------- Colour bar ----------
const barRoot = document.getElementById('colorbar');
const BAR_X = 229.5, BAR_Y = 971.5, BAR_W = 603, BAR_H = 23.5;
function barEdge(k) { return BAR_X + k * BAR_W / colorRamp.length; }
colorRamp.forEach((c, k) => {
  const box = make('rect', { x: barEdge(k), y: BAR_Y, width: BAR_W / colorRamp.length, height: BAR_H, fill: c, stroke: '#000', 'stroke-width': 1 }, barRoot);
  
  
});
colorBreaks.forEach((v, k) => {
  const lab = make('text', { x: barEdge(k + 1), y: 1023, 'font-size': 30, 'text-anchor': 'middle' }, barRoot);
  lab.textContent = String(v);
  
  
});
</script>
</body>
</html>
